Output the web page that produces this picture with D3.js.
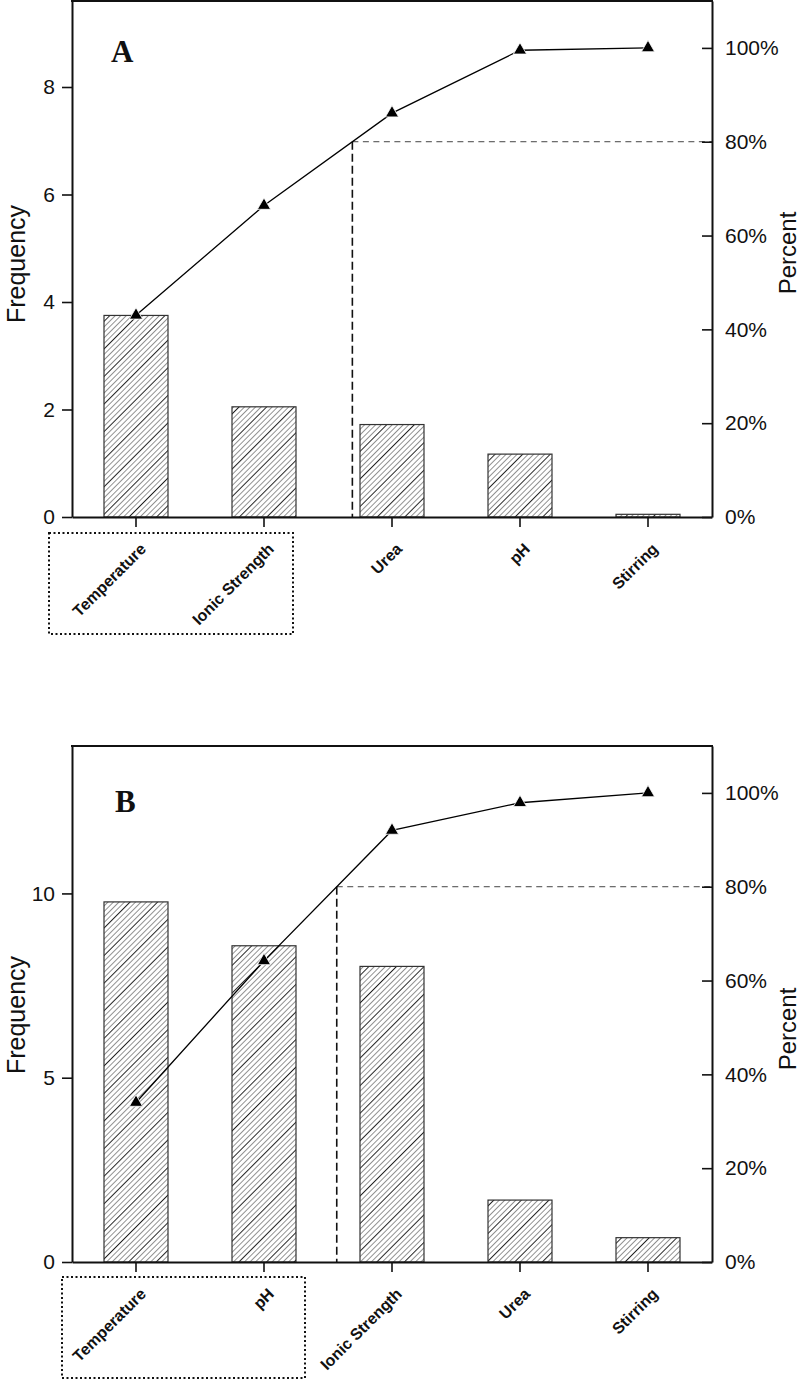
<!DOCTYPE html>
<html>
<head>
<meta charset="utf-8">
<script src="https://cdn.jsdelivr.net/npm/d3@7"></script>
<style>
  html, body { margin: 0; padding: 0; background: #fff; }
  svg { display: block; }
</style>
</head>
<body>
<svg id="chart" width="800" height="1381"></svg>
<script>
// ---------------- data ----------------
const categoriesA = ["Temperature", "Ionic Strength", "Urea", "pH", "Stirring"];
const frequencyA  = [3.75, 2.05, 1.72, 1.17, 0.05];
const cumPercentA = [43.0, 66.4, 86.1, 99.5, 100];
const freqTicksA  = [0, 2, 4, 6, 8];
const freqMaxA    = 9.6;

const categoriesB = ["Temperature", "pH", "Ionic Strength", "Urea", "Stirring"];
const frequencyB  = [9.77, 8.58, 8.02, 1.68, 0.66];
const cumPercentB = [34.0, 64.2, 92.0, 97.9, 100];
const freqTicksB  = [0, 5, 10];
const freqMaxB    = 14;

const percentTicks = [0, 20, 40, 60, 80, 100];
const percentMax   = 110;
const threshold    = 80;

// ---------------- layout ----------------
const left = 72, right = 712;
const panels = [
  { letter: "A", cats: categoriesA, freq: frequencyA, cum: cumPercentA, ticks: freqTicksA, fmax: freqMaxA,
    top: 1, bottom: 517, letterPos: [111, 62], box: [49, 533, 293, 634], freqLabelY: 264, pctLabelY: 253 },
  { letter: "B", cats: categoriesB, freq: frequencyB, cum: cumPercentB, ticks: freqTicksB, fmax: freqMaxB,
    top: 746, bottom: 1262, letterPos: [115, 812], box: [62, 1277, 305, 1378], freqLabelY: 1015, pctLabelY: 1029 }
];

const svg = d3.select("#chart");
const defs = svg.append("defs");
const pat = defs.append("pattern")
  .attr("id", "hatch")
  .attr("patternUnits", "userSpaceOnUse")
  .attr("width", 19.5).attr("height", 19.5)
  .attr("patternTransform", "rotate(45)");
[0, 1, 2, 3, 4].forEach(i => {
  pat.append("line")
    .attr("x1", i * 3.9 + 0.5).attr("x2", i * 3.9 + 0.5)
    .attr("y1", 0).attr("y2", 19.5)
    .attr("stroke", i === 2 ? "#222" : "#777")
    .attr("stroke-width", i === 2 ? 1.0 : 0.8);
});

const fontSans = "'Liberation Sans', Arial, Helvetica, sans-serif";

panels.forEach(p => {
  const g = svg.append("g");
  const x = d3.scaleBand().domain(p.cats).range([left, right]).paddingInner(0.5).paddingOuter(0.25);
  const y = d3.scaleLinear().domain([0, p.fmax]).range([p.bottom, p.top]);
  const yp = d3.scaleLinear().domain([0, percentMax]).range([p.bottom, p.top]);

  // bars
  g.append("g").selectAll("rect").data(p.cats).join("rect")
    .attr("x", d => x(d))
    .attr("width", x.bandwidth())
    .attr("y", (d, i) => y(p.freq[i]))
    .attr("height", (d, i) => p.bottom - y(p.freq[i]))
    .attr("fill", "url(#hatch)")
    .attr("stroke", "#333")
    .attr("stroke-width", 1.2);

  // 80% threshold crossing
  const cx = p.cats.map(c => x(c) + x.bandwidth() / 2);
  let xc = cx[0];
  for (let i = 1; i < p.cum.length; i++) {
    if (p.cum[i - 1] < threshold && p.cum[i] >= threshold) {
      const t = (threshold - p.cum[i - 1]) / (p.cum[i] - p.cum[i - 1]);
      xc = cx[i - 1] + t * (cx[i] - cx[i - 1]);
    }
  }
  g.append("line")
    .attr("x1", xc).attr("x2", right)
    .attr("y1", yp(threshold)).attr("y2", yp(threshold))
    .attr("stroke", "#444").attr("stroke-width", 1)
    .attr("stroke-dasharray", "6,4.5");
  g.append("line")
    .attr("x1", xc).attr("x2", xc)
    .attr("y1", yp(threshold)).attr("y2", p.bottom)
    .attr("stroke", "#111").attr("stroke-width", 1.6)
    .attr("stroke-dasharray", "8,4");

  // cumulative line
  const line = d3.line().x((d, i) => cx[i]).y(d => yp(d));
  g.append("path").datum(p.cum)
    .attr("d", line)
    .attr("fill", "none")
    .attr("stroke", "#000")
    .attr("stroke-width", 1.3);
  g.append("g").selectAll("path").data(p.cum).join("path")
    .attr("d", d3.symbol(d3.symbolTriangle, 75))
    .attr("transform", (d, i) => `translate(${cx[i]},${yp(d)})`)
    .attr("fill", "#000")
    .attr("stroke", "#fff")
    .attr("stroke-width", 0.8);

  // axes
  const axL = g.append("g").attr("transform", `translate(${left},0)`)
    .call(d3.axisLeft(y).tickValues(p.ticks).tickSize(10).tickSizeOuter(0).tickPadding(7));
  const axR = g.append("g").attr("transform", `translate(${right},0)`)
    .call(d3.axisRight(yp).tickValues(percentTicks).tickSizeInner(-10).tickSizeOuter(0).tickPadding(13)
      .tickFormat(d => d + "%"));
  const axB = g.append("g").attr("transform", `translate(0,${p.bottom})`)
    .call(d3.axisBottom(x).tickSize(10).tickSizeOuter(0));

  [axL, axR].forEach(a => {
    a.selectAll("text").attr("font-family", fontSans).attr("font-size", 21).attr("fill", "#111");
  });
  [axL, axR, axB].forEach(a => {
    a.select(".domain").attr("stroke", "#111").attr("stroke-width", 2);
    a.selectAll(".tick line").attr("stroke", "#111").attr("stroke-width", 1.6);
  });
  axB.selectAll("text")
    .attr("font-family", fontSans).attr("font-size", 16).attr("font-weight", "bold").attr("fill", "#111")
    .attr("text-anchor", "end")
    .attr("x", 0).attr("y", 0).attr("dy", 0)
    .attr("transform", "translate(11,33) rotate(-45)");

  // top frame line
  g.append("line")
    .attr("x1", left - 1).attr("x2", right + 1)
    .attr("y1", p.top).attr("y2", p.top)
    .attr("stroke", "#111").attr("stroke-width", 2);

  // axis titles
  g.append("text")
    .attr("transform", `translate(25,${p.freqLabelY}) rotate(-90)`)
    .attr("text-anchor", "middle")
    .attr("font-family", fontSans).attr("font-size", 25).attr("fill", "#111")
    .text("Frequency");
  g.append("text")
    .attr("transform", `translate(796,${p.pctLabelY}) rotate(-90)`)
    .attr("text-anchor", "middle")
    .attr("font-family", fontSans).attr("font-size", 24).attr("fill", "#111")
    .text("Percent");

  // panel letter
  g.append("text")
    .attr("x", p.letterPos[0]).attr("y", p.letterPos[1])
    .attr("font-family", "'Liberation Serif', 'Times New Roman', serif")
    .attr("font-weight", "bold").attr("font-size", 31).attr("fill", "#111")
    .text(p.letter);

  // dotted box around vital few
  g.append("rect")
    .attr("x", p.box[0]).attr("y", p.box[1])
    .attr("width", p.box[2] - p.box[0]).attr("height", p.box[3] - p.box[1])
    .attr("fill", "none").attr("stroke", "#111").attr("stroke-width", 2)
    .attr("stroke-dasharray", "2,2.5");
});
</script>
</body>
</html>
